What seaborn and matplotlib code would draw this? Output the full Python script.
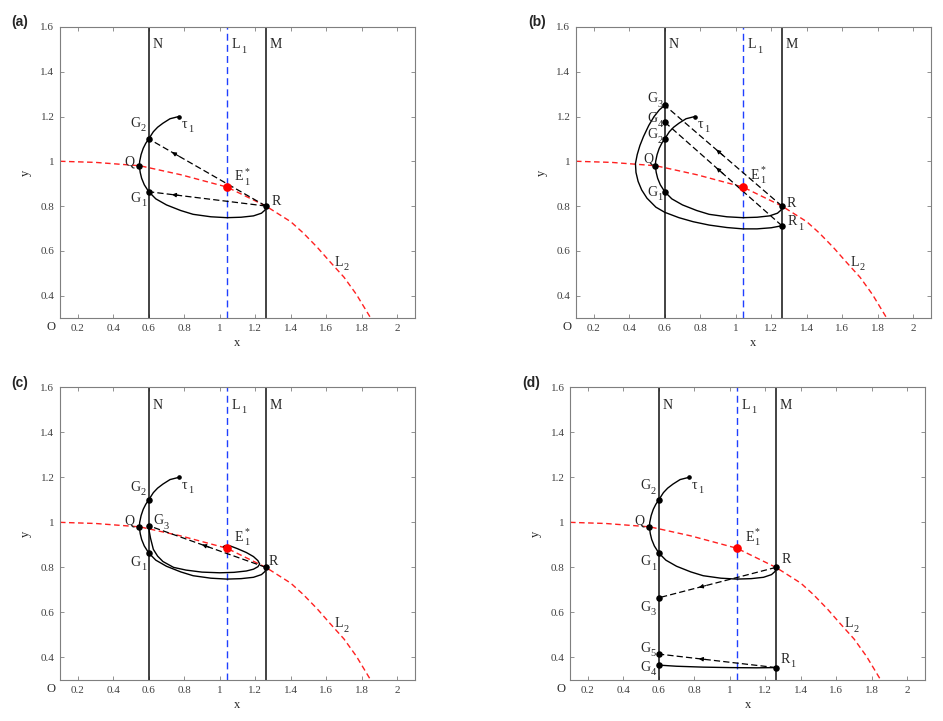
import numpy as np
import pandas as pd
import matplotlib
matplotlib.use("Agg")
import matplotlib.pyplot as plt
from matplotlib.ticker import FuncFormatter
import seaborn as sns

sns.set_theme(style="ticks")
plt.rcParams['font.family'] = ['Liberation Serif', 'DejaVu Serif']

# fixed lines
x_N = 0.60
x_M = 1.26
x_L1 = 1.04
E1 = (1.04, 0.885)
tau1 = (0.77, 1.20)

# curve L2 (red dashed)
L2_x = [0.10, 0.30, 0.55, 0.78, 1.04, 1.26, 1.40, 1.47, 1.55, 1.62, 1.70, 1.77, 1.85]
L2_y = [1.000, 0.995, 0.980, 0.940, 0.885, 0.800, 0.730, 0.680, 0.615, 0.552, 0.482, 0.405, 0.300]

# first trajectory tau1 -> G2 -> Q -> G1 -> R (same in all panels)
traj_x = [0.77, 0.72, 0.68, 0.65, 0.626, 0.60, 0.583, 0.569, 0.557, 0.549, 0.547, 0.552, 0.560,
          0.575, 0.60, 0.64, 0.70, 0.78, 0.85, 0.95, 1.04, 1.12, 1.19, 1.235, 1.255, 1.26]
traj_y = [1.200, 1.190, 1.170, 1.152, 1.132, 1.100, 1.080, 1.058, 1.030, 1.000, 0.979, 0.950, 0.924,
          0.895, 0.864, 0.832, 0.805, 0.780, 0.763, 0.752, 0.748, 0.750, 0.756, 0.768, 0.782, 0.800]

# panel (b) second loop G3 -> R1
outer_x = [0.60, 0.57, 0.54, 0.51, 0.48, 0.46, 0.445, 0.435, 0.438, 0.45, 0.47, 0.50, 0.55, 0.60,
           0.68, 0.76, 0.85, 0.95, 1.04, 1.12, 1.20, 1.26]
outer_y = [1.250, 1.230, 1.200, 1.160, 1.110, 1.070, 1.030, 0.990, 0.950, 0.910, 0.872, 0.835, 0.795, 0.772,
           0.748, 0.730, 0.715, 0.704, 0.698, 0.698, 0.703, 0.712]

# panel (c) trajectory from G3 spiralling to E1*
spiral_x = [0.60, 0.603, 0.61, 0.626, 0.65, 0.68, 0.74, 0.81, 0.90, 1.00, 1.08, 1.15, 1.19, 1.215,
            1.225, 1.215, 1.19, 1.15, 1.10, 1.06, 1.03, 1.02, 1.03, 1.04]
spiral_y = [0.985, 0.960, 0.930, 0.880, 0.850, 0.826, 0.800, 0.788, 0.779, 0.776, 0.778, 0.784, 0.792, 0.803,
            0.815, 0.830, 0.848, 0.866, 0.883, 0.895, 0.897, 0.892, 0.886, 0.885]

# panel (d) segment G4 -> R1
seg_x = [0.60, 0.70, 0.85, 1.00, 1.15, 1.26]
seg_y = [0.366, 0.361, 0.357, 0.355, 0.354, 0.355]

# impulse points on N / M
pts = {
    'a': {'G1': (0.60, 0.864), 'G2': (0.60, 1.10), 'Q': (0.547, 0.979), 'R': (1.26, 0.80)},
    'b': {'G1': (0.60, 0.864), 'G2': (0.60, 1.10), 'G3': (0.60, 1.25), 'G4': (0.60, 1.175),
          'Q': (0.547, 0.979), 'R': (1.26, 0.80), 'R1': (1.26, 0.712)},
    'c': {'G1': (0.60, 0.864), 'G2': (0.60, 1.10), 'G3': (0.60, 0.985), 'Q': (0.547, 0.979),
          'R': (1.26, 0.80)},
    'd': {'G1': (0.60, 0.864), 'G2': (0.60, 1.10), 'G3': (0.60, 0.665), 'G4': (0.60, 0.366),
          'G5': (0.60, 0.415), 'Q': (0.547, 0.979), 'R': (1.26, 0.80), 'R1': (1.26, 0.355)},
}
# dashed jumps (from, to, arrow x position)
jumps = {
    'a': [('R', 'G1', 0.75), ('R', 'G2', 0.75)],
    'b': [('R', 'G3', 0.91), ('R1', 'G4', 0.91)],
    'c': [('R', 'G3', 0.92)],
    'd': [('R', 'G3', 0.845), ('R1', 'G5', 0.845)],
}
# label positions (centre of the main letter)
labels = {
    'a': {'G2': (0.525, 1.17), 'G1': (0.525, 0.834), 'Q': (0.49, 0.997), 'R': (1.32, 0.822),
          'E': (1.11, 0.93), 'tau': (0.80, 1.165), 'L2': (1.67, 0.55)},
    'b': {'G3': (0.53, 1.28), 'G4': (0.53, 1.19), 'G2': (0.53, 1.118), 'Q': (0.51, 1.01),
          'G1': (0.53, 0.862), 'R': (1.315, 0.81), 'R1': (1.32, 0.73), 'E': (1.11, 0.938),
          'tau': (0.80, 1.165), 'L2': (1.67, 0.55)},
    'c': {'G2': (0.525, 1.156), 'G1': (0.525, 0.823), 'Q': (0.49, 1.006), 'G3': (0.655, 1.008),
          'R': (1.30, 0.826), 'E': (1.11, 0.933), 'tau': (0.80, 1.165), 'L2': (1.67, 0.55)},
    'd': {'G2': (0.525, 1.163), 'G1': (0.525, 0.826), 'Q': (0.49, 1.006), 'G3': (0.525, 0.623),
          'G5': (0.525, 0.442), 'G4': (0.525, 0.357), 'R': (1.315, 0.836), 'R1': (1.31, 0.393),
          'E': (1.11, 0.933), 'tau': (0.80, 1.165), 'L2': (1.67, 0.55)},
}

# (main text, subscript, superscript)
texmap = {'G1': ('G', '1', ''), 'G2': ('G', '2', ''), 'G3': ('G', '3', ''),
          'G4': ('G', '4', ''), 'G5': ('G', '5', ''), 'Q': ('Q', '', ''), 'R': ('R', '', ''),
          'R1': ('R', '1', ''), 'E': ('E', '1', '*'), 'tau': ('\u03c4', '1', ''),
          'L2': ('L', '2', '')}

fig = plt.figure(figsize=(9.43, 7.21), dpi=100)
positions = {
    'a': [0.0636, 0.559, 0.3765, 0.4036],
    'b': [0.6108, 0.559, 0.3765, 0.4036],
    'c': [0.0636, 0.0569, 0.3765, 0.406],
    'd': [0.6045, 0.0569, 0.3765, 0.406],
}
tag_pos = {'a': (20, 22), 'b': (537, 22), 'c': (20, 383), 'd': (531, 383)}
grey = '#7f7f7f'


def line(ax, x, y, **kw):
    df = pd.DataFrame({'x': x, 'y': y})
    sns.lineplot(data=df, x='x', y='y', sort=False, estimator=None, ax=ax, **kw)


def label(ax, x, y, main, sub='', sup='', size=10):
    ax.text(x, y, main, fontsize=size, ha='center', va='center', zorder=8)
    w = 3.8 if main != '\u03c4' else 3.0
    if sub:
        ax.annotate(sub, (x, y), xytext=(w, -4), textcoords='offset points',
                    fontsize=size * 0.75, ha='left', va='center', zorder=8)
    if sup:
        ax.annotate(sup, (x, y), xytext=(w, 4), textcoords='offset points',
                    fontsize=size * 0.7, ha='left', va='center', zorder=8)


for key in ['a', 'b', 'c', 'd']:
    ax = fig.add_axes(positions[key])
    P = pts[key]

    line(ax, L2_x, L2_y, color='#ff2020', lw=1.0, dashes=(4, 2.5))
    ax.axvline(x_L1, color='#1f3fff', lw=1.0, ls=(0, (5, 3)))
    ax.axvline(x_N, color='#222222', lw=1.2)
    ax.axvline(x_M, color='#222222', lw=1.2)

    line(ax, traj_x, traj_y, color='black', lw=1.0)
    if key == 'b':
        line(ax, outer_x, outer_y, color='black', lw=1.0)
    if key == 'c':
        line(ax, spiral_x, spiral_y, color='black', lw=1.0)
    if key == 'd':
        line(ax, seg_x, seg_y, color='black', lw=1.0)

    for a, b, xa in jumps[key]:
        (x0, y0), (x1, y1) = P[a], P[b]
        line(ax, [x0, x1], [y0, y1], color='black', lw=0.9, dashes=(5, 2.5))
        t = (xa - x0) / (x1 - x0)
        ya = y0 + t * (y1 - y0)
        dx, dy = (x1 - x0) * 0.03, (y1 - y0) * 0.03
        ax.annotate('', xy=(xa + dx, ya + dy), xytext=(xa - dx, ya - dy),
                    arrowprops=dict(arrowstyle='-|>', color='black', lw=0.8,
                                    mutation_scale=6, shrinkA=0, shrinkB=0))

    dots = pd.DataFrame(list(P.values()), columns=['x', 'y'])
    sns.scatterplot(data=dots, x='x', y='y', color='black', s=22, edgecolor='black',
                    linewidth=0, ax=ax, zorder=5)
    ax.plot(*tau1, 'o', color='black', ms=2.3, zorder=5)
    ax.plot(*E1, 'o', color='#ff0000', ms=5.2, zorder=6)

    for name, (tx, ty) in labels[key].items():
        label(ax, tx, ty, *texmap[name])
    label(ax, x_N + 0.05, 1.52, 'N')
    label(ax, x_L1 + 0.05, 1.52, 'L', '1')
    label(ax, x_M + 0.055, 1.52, 'M')

    ax.set_xlim(0.1, 2.1)
    ax.set_ylim(0.3, 1.6)
    fmt = FuncFormatter(lambda v, p: '%g' % round(v, 2))
    ax.xaxis.set_major_formatter(fmt)
    ax.yaxis.set_major_formatter(fmt)
    ax.set_xticks([0.2, 0.4, 0.6, 0.8, 1.0, 1.2, 1.4, 1.6, 1.8, 2.0])
    ax.set_yticks([0.4, 0.6, 0.8, 1.0, 1.2, 1.4, 1.6])
    ax.tick_params(direction='in', length=3, width=0.6, colors=grey, labelcolor='#404040',
                   labelsize=8, top=True, right=True, pad=4)
    for s in ax.spines.values():
        s.set_color(grey)
        s.set_linewidth(0.8)
    ax.set_xlabel('x', fontsize=9, color='#262626', labelpad=3)
    ax.set_ylabel('y', fontsize=9, color='#262626', labelpad=6)
    ax.text(-0.012, -0.03, 'O', transform=ax.transAxes, fontsize=9, ha='right', va='center')

    px, py = tag_pos[key]
    fig.text(px / 943, 1 - py / 721, '(%s)' % key, fontsize=10, fontweight='bold',
             family='Liberation Sans', ha='center', va='center')

fig.savefig('out.png', dpi=100)
